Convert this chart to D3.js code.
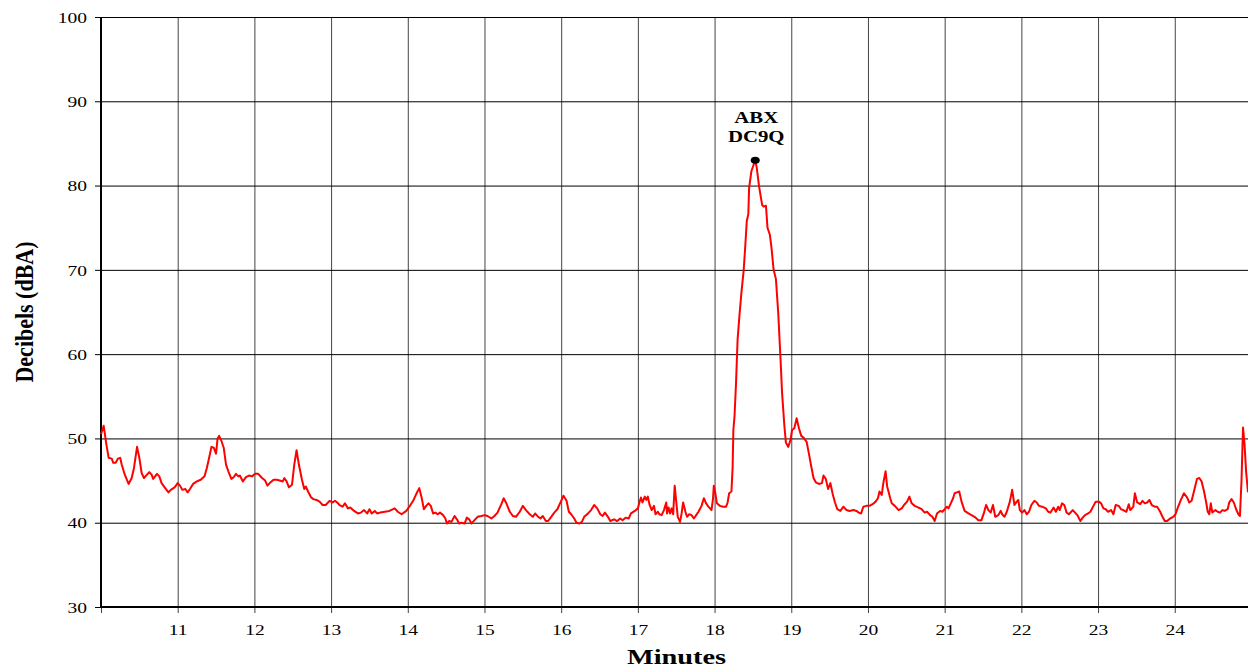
<!DOCTYPE html>
<html>
<head>
<meta charset="utf-8">
<title>Decibels over minutes</title>
<style>
  body { margin: 0; background: #fff; }
  svg { display: block; }
  text { font-family: "Liberation Serif", "Times New Roman", serif; fill: #000; }
</style>
<script src="https://cdnjs.cloudflare.com/ajax/libs/d3/7.8.5/d3.min.js"></script>
</head>
<body>
<script>
// minutes / dBA
var minutes = [
  10.00, 10.035, 10.07, 10.10, 10.14, 10.16, 10.19, 10.22, 10.25, 10.27, 10.31, 10.36, 10.40, 10.43, 10.47, 10.50,
  10.53, 10.56, 10.60, 10.63, 10.66, 10.68, 10.73, 10.76, 10.79, 10.83, 10.88, 10.91, 10.96, 11.00, 11.03, 11.06,
  11.10, 11.13, 11.16, 11.20, 11.25, 11.30, 11.35, 11.38, 11.41, 11.44, 11.47, 11.50, 11.52, 11.54, 11.57, 11.60,
  11.63, 11.66, 11.70, 11.73, 11.76, 11.79, 11.81, 11.85, 11.89, 11.93, 11.97, 12.01, 12.05, 12.10, 12.14, 12.17,
  12.20, 12.25, 12.29, 12.33, 12.37, 12.39, 12.42, 12.45, 12.49, 12.52, 12.55, 12.58, 12.62, 12.65, 12.67, 12.70,
  12.74, 12.77, 12.81, 12.85, 12.89, 12.93, 12.98, 13.02, 13.05, 13.08, 13.11, 13.15, 13.18, 13.22, 13.25, 13.30,
  13.35, 13.39, 13.43, 13.47, 13.50, 13.53, 13.57, 13.60, 13.64, 13.70, 13.76, 13.83, 13.87, 13.92, 13.98, 14.02,
  14.07, 14.11, 14.15, 14.18, 14.21, 14.24, 14.27, 14.30, 14.33, 14.36, 14.39, 14.42, 14.46, 14.49, 14.51, 14.54,
  14.57, 14.61, 14.64, 14.67, 14.70, 14.74, 14.77, 14.80, 14.83, 14.87, 14.91, 14.96, 15.00, 15.04, 15.09, 15.13,
  15.17, 15.22, 15.25, 15.28, 15.33, 15.37, 15.41, 15.46, 15.50, 15.54, 15.59, 15.63, 15.66, 15.70, 15.73, 15.76,
  15.80, 15.83, 15.87, 15.91, 15.95, 16.00, 16.03, 16.07, 16.10, 16.13, 16.17, 16.20, 16.24, 16.27, 16.30, 16.35,
  16.39, 16.43, 16.47, 16.51, 16.54, 16.57, 16.61, 16.64, 16.69, 16.73, 16.77, 16.80, 16.84, 16.88, 16.91, 16.96,
  17.00, 17.02, 17.04, 17.06, 17.09, 17.11, 17.13, 17.15, 17.18, 17.21, 17.23, 17.26, 17.28, 17.31, 17.34, 17.37,
  17.38, 17.40, 17.42, 17.44, 17.46, 17.48, 17.50, 17.52, 17.55, 17.57, 17.59, 17.62, 17.64, 17.67, 17.70, 17.73,
  17.76, 17.79, 17.83, 17.86, 17.89, 17.92, 17.96, 17.98, 17.99, 18.01, 18.03, 18.07, 18.11, 18.15, 18.17, 18.19,
  18.22, 18.235, 18.245, 18.26, 18.28, 18.30, 18.32, 18.35, 18.38, 18.40, 18.42, 18.44, 18.45, 18.48, 18.51, 18.53,
  18.55, 18.58, 18.62, 18.64, 18.67, 18.69, 18.72, 18.74, 18.77, 18.80, 18.83, 18.86, 18.88, 18.91, 18.93, 18.96,
  18.99, 19.01, 19.04, 19.07, 19.10, 19.13, 19.16, 19.20, 19.23, 19.26, 19.29, 19.32, 19.36, 19.40, 19.42, 19.45,
  19.48, 19.51, 19.54, 19.57, 19.60, 19.64, 19.68, 19.72, 19.76, 19.81, 19.85, 19.88, 19.91, 19.94, 19.98, 20.02,
  20.06, 20.10, 20.13, 20.15, 20.18, 20.20, 20.23, 20.25, 20.27, 20.29, 20.31, 20.35, 20.40, 20.44, 20.47, 20.51,
  20.54, 20.57, 20.61, 20.66, 20.70, 20.74, 20.77, 20.81, 20.84, 20.87, 20.90, 20.94, 20.97, 21.00, 21.03, 21.05,
  21.08, 21.11, 21.13, 21.16, 21.19, 21.22, 21.26, 21.31, 21.35, 21.39, 21.44, 21.48, 21.51, 21.54, 21.57, 21.60,
  21.63, 21.66, 21.70, 21.73, 21.75, 21.78, 21.81, 21.85, 21.88, 21.91, 21.94, 21.96, 21.98, 22.01, 22.04, 22.07,
  22.10, 22.13, 22.17, 22.20, 22.23, 22.27, 22.32, 22.35, 22.38, 22.42, 22.45, 22.48, 22.50, 22.53, 22.56, 22.59,
  22.62, 22.67, 22.70, 22.73, 22.77, 22.80, 22.83, 22.87, 22.90, 22.94, 22.97, 23.01, 23.04, 23.07, 23.10, 23.13,
  23.17, 23.20, 23.23, 23.27, 23.30, 23.33, 23.37, 23.40, 23.42, 23.46, 23.48, 23.51, 23.55, 23.58, 23.61, 23.64,
  23.67, 23.70, 23.74, 23.77, 23.81, 23.84, 23.87, 23.90, 23.94, 23.98, 24.01, 24.04, 24.08, 24.12, 24.16, 24.19,
  24.22, 24.25, 24.29, 24.32, 24.35, 24.38, 24.41, 24.43, 24.45, 24.47, 24.49, 24.53, 24.56, 24.59, 24.62, 24.65,
  24.69, 24.71, 24.74, 24.77, 24.80, 24.83, 24.85, 24.87, 24.89, 24.91, 24.93, 24.955
];
var dba = [
  50.5, 51.5, 49.3, 47.7, 47.6, 47.1, 47.1, 47.6, 47.7, 46.9, 45.7, 44.6, 45.3, 46.5, 49.0, 47.7,
  45.9, 45.3, 45.7, 46.0, 45.7, 45.2, 45.8, 45.5, 44.7, 44.2, 43.6, 43.9, 44.2, 44.7, 44.4, 43.9,
  44.0, 43.6, 44.0, 44.6, 44.9, 45.1, 45.5, 46.5, 47.7, 49.0, 48.9, 48.2, 50.0, 50.3, 49.7, 48.9,
  46.9, 46.1, 45.2, 45.4, 45.8, 45.5, 45.6, 44.9, 45.4, 45.6, 45.5, 45.8, 45.8, 45.3, 45.0, 44.4,
  44.7, 45.1, 45.1, 45.0, 44.9, 45.3, 44.9, 44.2, 44.5, 46.9, 48.6, 46.9, 45.1, 44.0, 44.3, 43.7,
  43.0, 42.8, 42.7, 42.5, 42.1, 42.1, 42.6, 42.4, 42.6, 42.4, 42.1, 41.9, 42.3, 41.7, 41.8, 41.4,
  41.1, 41.2, 41.5, 41.1, 41.6, 41.1, 41.4, 41.1, 41.2, 41.3, 41.4, 41.7, 41.3, 41.0, 41.4, 41.9,
  42.6, 43.4, 44.1, 43.0, 41.6, 42.0, 42.3, 42.0, 41.1, 41.2, 41.0, 41.2, 40.9, 40.5, 39.9, 40.2,
  40.1, 40.8, 40.4, 39.9, 40.0, 39.9, 40.6, 40.4, 39.9, 40.3, 40.7, 40.8, 40.9, 40.8, 40.5, 40.8,
  41.2, 42.2, 42.9, 42.4, 41.3, 40.8, 40.7, 41.3, 42.0, 41.5, 41.0, 40.7, 41.1, 40.7, 40.5, 40.8,
  40.2, 40.2, 40.7, 41.2, 41.6, 42.6, 43.2, 42.6, 41.3, 41.0, 40.5, 40.0, 39.9, 40.1, 40.7, 41.1,
  41.5, 42.1, 41.7, 41.0, 40.8, 41.2, 40.7, 40.2, 40.4, 40.2, 40.5, 40.3, 40.6, 40.5, 41.1, 41.4,
  41.7, 42.4, 43.0, 42.4, 43.1, 42.7, 43.1, 42.2, 41.5, 42.0, 41.0, 41.3, 41.0, 40.9, 41.5, 42.4,
  41.1, 41.8, 41.1, 41.7, 41.0, 44.4, 42.5, 40.7, 40.1, 41.1, 42.4, 41.3, 40.7, 41.0, 40.9, 40.5,
  40.9, 41.3, 42.0, 42.9, 42.3, 41.9, 41.5, 42.9, 44.4, 43.5, 42.3, 42.0, 41.9, 41.9, 42.4, 43.5,
  43.7, 46.5, 51.0, 52.6, 56.6, 61.7, 64.1, 67.3, 70.0, 72.8, 75.8, 76.6, 79.7, 81.7, 82.5, 83.0,
  82.1, 79.9, 77.7, 77.5, 77.6, 75.0, 74.2, 72.8, 70.0, 68.9, 64.9, 59.4, 55.4, 51.5, 49.5, 49.0,
  49.8, 51.0, 51.2, 52.4, 51.2, 50.3, 50.1, 49.6, 48.2, 46.7, 45.3, 44.8, 44.6, 44.7, 45.6, 45.2,
  44.0, 44.7, 43.4, 42.4, 41.6, 41.4, 41.9, 41.5, 41.4, 41.5, 41.4, 41.2, 41.1, 41.9, 42.0, 42.0,
  42.2, 42.5, 42.9, 43.7, 43.3, 44.7, 46.1, 44.3, 43.6, 42.9, 42.3, 42.0, 41.5, 41.7, 42.1, 42.5,
  43.1, 42.3, 42.0, 41.8, 41.6, 41.2, 41.3, 40.9, 40.7, 40.2, 41.1, 41.4, 41.3, 41.6, 41.9, 41.7,
  42.3, 42.9, 43.5, 43.6, 43.7, 42.5, 41.4, 41.1, 40.9, 40.7, 40.3, 40.3, 41.1, 42.1, 41.5, 41.2,
  42.1, 40.7, 40.9, 41.4, 41.0, 40.7, 41.3, 42.5, 43.9, 42.1, 42.5, 42.7, 41.5, 41.2, 41.5, 41.0,
  41.3, 42.1, 42.6, 42.4, 42.0, 41.9, 41.7, 41.3, 41.2, 41.8, 41.3, 41.9, 41.5, 42.3, 42.1, 41.2,
  41.0, 41.5, 41.2, 40.9, 40.2, 40.6, 40.9, 41.1, 41.3, 42.0, 42.5, 42.5, 42.3, 41.7, 41.6, 41.3,
  41.5, 41.0, 42.1, 42.0, 41.6, 41.5, 41.3, 42.2, 41.5, 41.9, 43.5, 42.4, 42.2, 42.6, 42.3, 42.4,
  42.7, 42.1, 41.9, 41.9, 41.3, 40.7, 40.2, 40.2, 40.5, 40.7, 41.0, 41.8, 42.7, 43.5, 43.0, 42.4,
  42.6, 43.7, 45.2, 45.3, 44.9, 43.8, 42.4, 41.3, 41.0, 42.3, 41.2, 41.5, 41.3, 41.2, 41.5, 41.4,
  41.6, 42.4, 42.8, 42.4, 41.6, 41.0, 40.8, 44.9, 51.3, 49.3, 46.1, 43.6
];

var yTicks = [30, 40, 50, 60, 70, 80, 90, 100];
var xTicks = [10, 11, 12, 13, 14, 15, 16, 17, 18, 19, 20, 21, 22, 23, 24];
var xTickLabels = ["", "11", "12", "13", "14", "15", "16", "17", "18", "19", "20", "21", "22", "23", "24"];

var peakLabel = ["ABX", "DC9Q"];
var peakMinute = 18.53, peakDba = 83.0;

var margin = {top: 17, right: 0, bottom: 62, left: 101},
    width = 1248 - margin.left - margin.right,
    height = 669 - margin.top - margin.bottom;

var x = d3.scaleLinear().domain([10, 24.955]).range([0, width]);
var y = d3.scaleLinear().domain([30, 100]).range([height, 0]);

var svg = d3.select("body").append("svg")
    .attr("width", 1248)
    .attr("height", 669)
  .append("g")
    .attr("transform", "translate(" + margin.left + "," + margin.top + ")");

// vertical grid + x ticks
var xAxis = svg.append("g")
    .attr("transform", "translate(0," + height + ")")
    .call(d3.axisBottom(x).tickValues(xTicks).tickSize(6)
      .tickFormat(function(d, i) { return xTickLabels[i]; }));
xAxis.select(".domain").remove();
xAxis.selectAll(".tick line")
    .attr("y1", -height).attr("y2", 6)
    .attr("stroke", "#444").attr("stroke-width", 1);
xAxis.selectAll(".tick text")
    .attr("y", 0).attr("dy", 0)
    .attr("transform", "translate(0,28) scale(1.3,1)")
    .style("font-size", "15px");

// horizontal grid + y ticks
var yAxis = svg.append("g")
    .call(d3.axisLeft(y).tickValues(yTicks).tickSize(6));
yAxis.select(".domain").remove();
yAxis.selectAll(".tick line")
    .attr("x1", -6).attr("x2", width)
    .attr("stroke", "#000").attr("stroke-width", 1);
yAxis.selectAll(".tick text")
    .attr("x", 0).attr("dy", "0.35em")
    .attr("transform", "translate(-14,0) scale(1.3,1)")
    .style("font-size", "15px");

// frame lines
svg.append("line").attr("x1", 0).attr("x2", 0).attr("y1", 0).attr("y2", height)
    .attr("stroke", "#000").attr("stroke-width", 2);
svg.append("line").attr("x1", 0).attr("x2", width).attr("y1", height).attr("y2", height)
    .attr("stroke", "#000").attr("stroke-width", 2);

// the noise trace
var pts = minutes.map(function(m, i) { return [m, dba[i]]; });
var line = d3.line()
    .x(function(d) { return x(d[0]); })
    .y(function(d) { return y(d[1]); });

svg.append("path").datum(pts)
    .attr("d", line)
    .attr("fill", "none")
    .attr("stroke", "#ff0000")
    .attr("stroke-width", 2)
    .attr("stroke-linejoin", "round");

// peak marker and label
svg.append("ellipse")
    .attr("cx", x(peakMinute)).attr("cy", y(peakDba))
    .attr("rx", 4.5).attr("ry", 3.5)
    .attr("fill", "#000");

svg.selectAll(".peak")
    .data(peakLabel).enter()
    .append("text")
    .attr("class", "peak")
    .attr("text-anchor", "middle")
    .attr("transform", function(d, i) {
      return "translate(" + (x(peakMinute) + 1) + "," + (y(peakDba) - 37 + i * 18.5) + ") scale(1.3,1)";
    })
    .style("font-size", "16px")
    .style("font-weight", "bold")
    .text(function(d) { return d; });

// axis titles
svg.append("text")
    .attr("text-anchor", "middle")
    .attr("transform", "translate(" + (width / 2 + 2) + "," + (height + 57) + ") scale(1.35,1)")
    .style("font-size", "21px")
    .style("font-weight", "bold")
    .text("Minutes");

svg.append("text")
    .attr("text-anchor", "middle")
    .attr("transform", "translate(" + (33 - margin.left) + "," + (height / 2) + ") scale(1.15,1) rotate(-90)")
    .style("font-size", "22px")
    .style("font-weight", "bold")
    .text("Decibels (dBA)");
</script>
</body>
</html>
